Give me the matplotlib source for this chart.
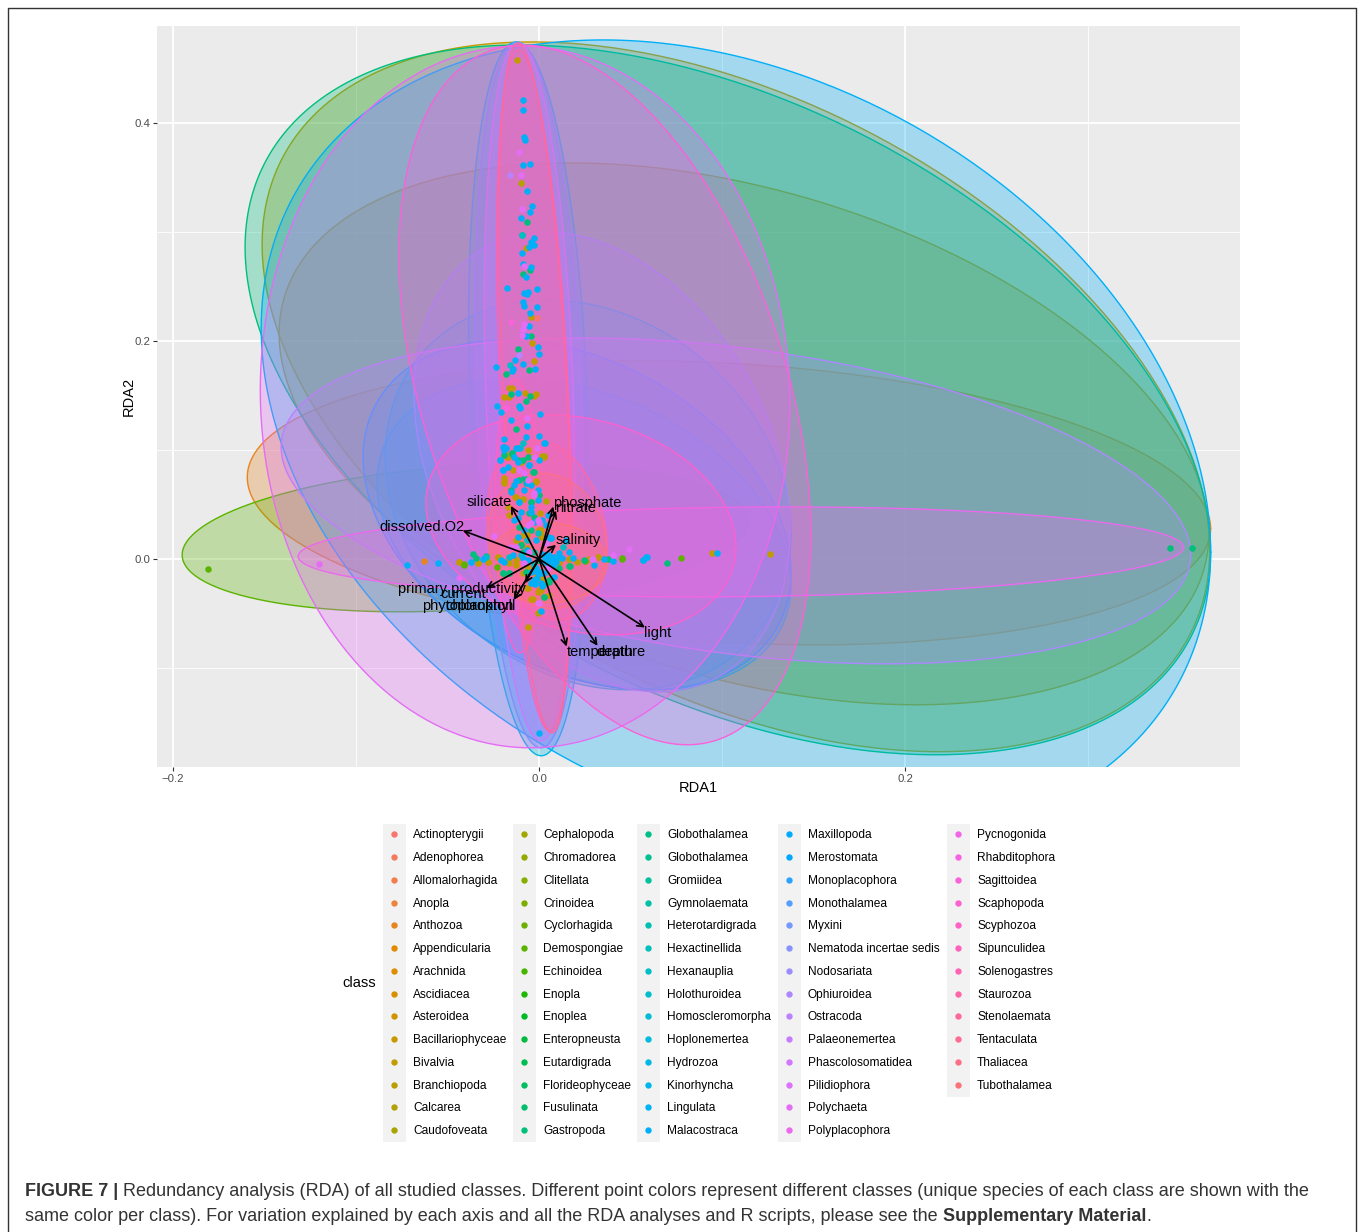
import matplotlib
matplotlib.use("Agg")
import matplotlib.pyplot as plt
import numpy as np

plt.rcParams["font.family"] = ["Liberation Sans", "DejaVu Sans"]

classes = [
    "Actinopterygii", "Adenophorea", "Allomalorhagida", "Anopla", "Anthozoa", "Appendicularia",
    "Arachnida", "Ascidiacea", "Asteroidea", "Bacillariophyceae", "Bivalvia", "Branchiopoda",
    "Calcarea", "Caudofoveata", "Cephalopoda", "Chromadorea", "Clitellata", "Crinoidea",
    "Cyclorhagida", "Demospongiae", "Echinoidea", "Enopla", "Enoplea", "Enteropneusta",
    "Eutardigrada", "Florideophyceae", "Fusulinata", "Gastropoda", "Globothalamea", "Globothalamea",
    "Gromiidea", "Gymnolaemata", "Heterotardigrada", "Hexactinellida", "Hexanauplia", "Holothuroidea",
    "Homoscleromorpha", "Hoplonemertea", "Hydrozoa", "Kinorhyncha", "Lingulata", "Malacostraca",
    "Maxillopoda", "Merostomata", "Monoplacophora", "Monothalamea", "Myxini", "Nematoda incertae sedis",
    "Nodosariata", "Ophiuroidea", "Ostracoda", "Palaeonemertea", "Phascolosomatidea", "Pilidiophora",
    "Polychaeta", "Polyplacophora", "Pycnogonida", "Rhabditophora", "Sagittoidea", "Scaphopoda",
    "Scyphozoa", "Sipunculidea", "Solenogastres", "Staurozoa", "Stenolaemata", "Tentaculata",
    "Thaliacea", "Tubothalamea",
]

# ellipses: class, centre, half extent on each axis, correlation
ell_class = ["Anthozoa", "Asteroidea", "Bivalvia", "Demospongiae", "Gastropoda", "Hexanauplia",
             "Holothuroidea", "Hydrozoa", "Malacostraca", "Merostomata", "Monothalamea", "Myxini",
             "Ophiuroidea", "Ostracoda", "Polychaeta", "Polyplacophora", "Sagittoidea", "Scaphopoda",
             "Scyphozoa", "Solenogastres", "Staurozoa", "Stenolaemata", "Thaliacea", "Tubothalamea"]
ell_cx = [0.1038, 0.112, 0.1076, -0.0404, 0.1032, 0.0268, 0.0246, -0.0057, 0.1076, 0.0208, -0.0055,
          0.0344, 0.1076, -0.0052, -0.0076, 0.1103, 0.036, 0.0229, -0.0115, -0.0026, 0.0044, -0.0022,
          0.0044, 0.0044]
ell_ax = [0.2632, 0.254, 0.2589, 0.1546, 0.2638, 0.1109, 0.1131, 0.0328, 0.2594, 0.1169, 0.0295,
          0.1027, 0.2485, 0.0247, 0.1447, 0.2419, 0.1125, 0.0847, 0.0126, 0.0205, 0.0328, 0.0197,
          0.0325, 0.0328]
ell_cy = [0.0514, 0.1147, 0.1487, 0.0193, 0.1459, 0.0587, 0.0229, 0.1468, 0.1092, 0.0404, 0.1505,
          0.089, 0.0532, 0.1532, 0.1486, 0.0064, 0.1505, 0.0312, 0.0394, 0.1545, 0.0266, 0.1569,
          0.0165, -0.0037]
ell_ay = [0.1303, 0.2486, 0.3257, 0.0679, 0.3257, 0.1789, 0.1431, 0.3275, 0.367, 0.1606, 0.3239,
          0.211, 0.1495, 0.3202, 0.322, 0.0413, 0.3211, 0.1009, 0.1257, 0.3125, 0.0826, 0.3165,
          0.062, 0.0367]
ell_r = [-0.18, -0.37, -0.43, 0.23, -0.43, -0.2, -0.33, -0.21, -0.28, -0.33, -0.22,
         -0.3, -0.33, -0.25, -0.02, 0.1, -0.4, -0.2, -0.1, -0.42, -0.2, -0.47, -0.1, 0.0]

# points, by class
malacostraca_x = [-0.009, -0.009, -0.008, -0.0075, -0.009, -0.005, -0.0064, -0.0037, -0.005, -0.01, -0.0026,
                  -0.0044, -0.003, -0.0053, -0.0095, -0.0087, -0.0044, -0.007, -0.0173, -0.001, -0.008, -0.006,
                  -0.0066, -0.0087, -0.0082, -0.0009, -0.005, -0.0053, -0.007, -0.0004, -0.0002, -0.0129, -0.0237,
                  -0.0087, -0.014, -0.0149, -0.002, -0.0116, -0.0229, -0.0209, -0.0109, -0.0105, 0.0004, -0.0151,
                  -0.0066, -0.019, 0.0002, -0.0073, 0.0031, -0.0193, -0.019, -0.0124, -0.0211, -0.0199, -0.0171,
                  -0.0117, -0.0053, 0.0002, -0.0135, -0.0153, -0.008, -0.0044, -0.0007, -0.0108, -0.0007, -0.0044,
                  -0.0098, -0.0135, -0.0026, -0.008, 0.0056, 0.0038, -0.0371, -0.0308, -0.0207, -0.0189, -0.0144,
                  -0.0089, -0.0062, 0.0066, 0.0047, 0.0093, -0.0016, 0.0011, -0.0025, 0.0084, 0.0011, 0.0184,
                  0.0066, 0.0299, 0.0357, 0.0402, 0.0589, 0.0569, 0.0584, 0.0972, -0.0721, -0.0552, 0.0, 0.0041,
                  0.0015, 0.0035, 0.0028, 0.0062, 0.0105, 0.0128, -0.0035, -0.0012, -0.0021, 0.0018, 0.0074,
                  -0.0199, -0.0181, -0.0117, 0.0028, -0.0212, -0.0135, -0.0053, -0.0199, -0.0126, -0.0063,
                  -0.0108, -0.0044, 0.0019, 0.0047, -0.0117, 0.0047, 0.0065, -0.0017, -0.0117, 0.0147,
                  -0.0063, 0.0056, 0.0083, 0.011, 0.0165, 0.0028, -0.0008, -0.0044, 0.001, -0.0044]
malacostraca_y = [0.421, 0.412, 0.387, 0.384, 0.361, 0.362, 0.338, 0.324, 0.318, 0.3125, 0.294,
                  0.291, 0.288, 0.2865, 0.281, 0.271, 0.2676, 0.2584, 0.2483, 0.248, 0.2437, 0.2452,
                  0.243, 0.2358, 0.2318, 0.2312, 0.2257, 0.214, 0.2046, 0.1945, 0.188, 0.1826, 0.1764,
                  0.1786, 0.1746, 0.1725, 0.1743, 0.1523, 0.1406, 0.1349, 0.1406, 0.1383, 0.133, 0.1272,
                  0.1223, 0.1098, 0.1128, 0.1119, 0.1061, 0.103, 0.1, 0.1018, 0.0908, 0.0816, 0.0847,
                  0.0893, 0.0862, 0.0908, 0.0679, 0.0618, 0.0633, 0.0679, 0.0633, 0.0526, 0.0541, 0.048,
                  0.0434, 0.0357, 0.0342, 0.0266, 0.0189, 0.0312, -0.0025, -0.0003, -0.0009, -0.0025, 0.0036,
                  0.0006, -0.0009, 0.0006, -0.004, -0.0025, -0.0086, -0.0132, -0.0193, -0.0162, -0.0478, 0.0006,
                  0.019, -0.0055, -0.0003, -0.0016, 0.0021, -0.0013, 0.0018, 0.0055, -0.0055, -0.004, -0.16, 0.0032,
                  0.0046, 0.0012, -0.0028, -0.0018, 0.0021, 0.0009, -0.0112, -0.0175, -0.0231, -0.0248, -0.0058,
                  0.1031, 0.1016, 0.1016, 0.1061, 0.0908, 0.0939, 0.0862, 0.0817, 0.071, 0.0694,
                  0.0526, 0.0434, 0.0358, 0.0404, 0.0373, 0.0205, 0.0189, 0.0174, 0.0205, 0.0174,
                  0.0082, 0.0036, 0.0021, 0.0052, 0.0067, -0.0132, -0.0132, -0.0117, -0.0224, -0.0224]

gastropoda_x = [-0.0067, -0.005, -0.009, -0.0042, -0.0116, -0.0053, -0.018, -0.0153, -0.0051, -0.0073, -0.0126,
                -0.0149, -0.015, -0.0117, -0.0062, -0.0035, -0.0108, -0.0071, -0.0044, -0.0053, -0.0026, -0.0098,
                -0.0362, -0.0344, -0.0289, -0.0198, -0.0162, 0.0166, 0.0111, 0.0057, 0.002, 0.0378, 0.0247,
                0.0167, 0.0702, 0.3446, 0.3566, -0.0089, 0.0568, -0.0095,
                -0.019, -0.0145, -0.0026, -0.009, -0.0154, -0.0081, -0.0044, 0.0001, -0.0108, -0.0044,
                -0.0099, -0.0026, 0.0028, -0.0008, -0.0199, -0.0163, -0.0072, 0.0056, -0.0026, 0.0025]
gastropoda_y = [0.309, 0.2654, 0.261, 0.2043, 0.1927, 0.1731, 0.1694, 0.1511, 0.1492, 0.145, 0.1193,
                0.0966, 0.0969, 0.0908, 0.0939, 0.0801, 0.0725, 0.0694, 0.0526, 0.0419, 0.0388, 0.0128,
                0.0043, 0.0006, 0.0027, -0.0132, -0.0126, -0.0064, -0.0086, -0.0208, -0.0239, -0.0003, -0.001,
                -0.0065, -0.004, 0.01, 0.01, 0.0064, -0.001, 0.297,
                0.0954, 0.097, 0.0801, 0.0908, 0.0633, 0.074, 0.0526, 0.0587, 0.0296, 0.0266,
                0.0128, 0.0067, 0.0036, -0.001, -0.0132, -0.0132, -0.0117, -0.0193, -0.0224, -0.0346]

bivalvia_x = [-0.012, -0.007, -0.0044, -0.004, -0.0027, -0.0162, -0.0147, -0.019, -0.0165, -0.0076, -0.0027,
              -0.0016, -0.0058, -0.0175, -0.0038, -0.0175, -0.0098, -0.0144, -0.019, -0.019, -0.0017, -0.0126,
              -0.0089, -0.0171, -0.0162, 0.0007, 0.0002, -0.0126, -0.0089, -0.0335, -0.028, -0.0226, -0.0162,
              -0.0125, -0.0089, -0.0058, 0.0111, 0.0208, 0.0275, 0.0324, 0.0011, -0.0062, 0.0011, -0.0007,
              -0.0035, 0.0057, 0.0011, -0.0098, 0.126, 0.0945, -0.006, -0.0435,
              -0.0172, -0.01, -0.0044, 0.0019, -0.019, -0.0132, -0.009, -0.0017, -0.0063, 0.001, -0.0063,
              0.001, -0.0126, -0.0226, -0.0281, 0.011, -0.0172, 0.0, -0.0044, 0.0019, -0.0063, -0.0017]
bivalvia_y = [0.458, 0.285, 0.2217, 0.1984, 0.182, 0.1566, 0.1566, 0.149, 0.149, 0.1523, 0.1495,
              0.1514, 0.1, 0.0954, 0.0938, 0.0939, 0.0893, 0.0816, 0.074, 0.0694, 0.0709, 0.0572,
              0.055, 0.048, 0.0403, 0.0425, 0.0266, 0.0174, 0.022, -0.0034, -0.0025, 0.0021, -0.0034,
              -0.0055, -0.0132, -0.0086, -0.0025, -0.0031, -0.0003, 0.0015, -0.0162, -0.027, -0.0285, -0.03,
              -0.0368, -0.0331, 0.022, 0.0137, 0.0046, 0.005, -0.0624, -0.0031,
              0.0939, 0.0893, 0.0939, 0.0945, 0.071, 0.0572, 0.0547, 0.071, 0.0097, 0.0266, 0.022,
              0.0205, -0.001, 0.0021, -0.0025, -0.0025, -0.0025, -0.0285, -0.037, -0.0193, -0.027, -0.0163]

calcarea_x = [-0.0097, 0.0026, 0.0025, 0.0038, -0.0007, 0.0166]
calcarea_y = [0.345, 0.0942, 0.0939, 0.0532, -0.0493, 0.0]

anthozoa_x = [-0.0628, -0.0437, -0.0333, 0.032]
anthozoa_y = [-0.0018, -0.0028, -0.0037, 0.0015]

demospongiae_x = [-0.181, -0.041, -0.0408, -0.0229, 0.0251, 0.0029, 0.0456, 0.0775, 0.0453]
demospongiae_y = [-0.009, -0.0055, -0.0049, -0.0077, -0.0016, -0.0346, 0.0006, 0.0009, 0.0]

polychaeta_x = [-0.011, -0.01, -0.0095, -0.0084, -0.008, -0.0086, -0.0093, -0.0066, -0.0009, -0.008, -0.0062,
                -0.0026, -0.0108, -0.0026, 0.0002, -0.0062, 0.0038, -0.0435, 0.0293, 0.0002, -0.0125, -0.0244,
                -0.0053, -0.12, 0.0493, 0.0402, 0.0292,
                -0.0026, -0.0044, -0.0008, 0.0047, -0.0081, -0.0154, -0.0008]
polychaeta_y = [0.373, 0.352, 0.321, 0.269, 0.2156, 0.2107, 0.2055, 0.129, 0.1021, 0.0786, 0.0725,
                0.0939, 0.0816, 0.0587, 0.0342, 0.0312, 0.0143, -0.0178, -0.0003, -0.0407, 0.0113, 0.0211,
                0.0067, -0.005, 0.0091, 0.0036, -0.0003,
                0.0602, 0.0327, 0.0358, -0.0086, -0.004, 0.0113, -0.0407]

hexanauplia_x = [-0.016, -0.0089, -0.0102, 0.0148, -0.0095,
                 -0.0099, -0.0063, -0.0008, 0.0129, -0.0163, -0.029, -0.0026, 0.001]
hexanauplia_y = [0.1777, 0.1064, 0.1016, 0.0168, 0.297,
                 0.0036, 0.0174, 0.0235, 0.0113, 0.0021, 0.0021, -0.0055, -0.0117]

ostracoda_x = [-0.016, -0.0111]
ostracoda_y = [0.352, 0.1875]

sagittoidea_x = [-0.0155, -0.0179]
sagittoidea_y = [0.2174, 0.1388]

actinopterygii_x = [-0.0011]
actinopterygii_y = [0.2214]

point_groups = [
    ("Actinopterygii", actinopterygii_x, actinopterygii_y),
    ("Anthozoa", anthozoa_x, anthozoa_y),
    ("Bivalvia", bivalvia_x, bivalvia_y),
    ("Calcarea", calcarea_x, calcarea_y),
    ("Demospongiae", demospongiae_x, demospongiae_y),
    ("Gastropoda", gastropoda_x, gastropoda_y),
    ("Hexanauplia", hexanauplia_x, hexanauplia_y),
    ("Malacostraca", malacostraca_x, malacostraca_y),
    ("Ostracoda", ostracoda_x, ostracoda_y),
    ("Polychaeta", polychaeta_x, polychaeta_y),
    ("Sagittoidea", sagittoidea_x, sagittoidea_y),
]

# environmental arrows
env_labels = ["silicate", "phosphate", "nitrate", "dissolved.O2", "salinity", "primary productivity",
              "current", "phytoplankton", "chlorophyll", "temperature", "depth", "light"]
env_x = [-0.0153, 0.0078, 0.0093, -0.0417, 0.0093, -0.0289, -0.0076, -0.0138, -0.0138, 0.0151, 0.032, 0.0579]
env_y = [0.0486, 0.048, 0.0443, 0.026, 0.0128, -0.0269, -0.0223, -0.0376, -0.0376, -0.0805, -0.0798, -0.063]
label_x = [-0.0273, 0.0262, 0.0197, -0.0639, 0.0213, -0.0421, -0.0415, -0.0388, -0.0322, 0.0366, 0.0415, 0.065]
label_y = [0.0523, 0.0514, 0.0468, 0.029, 0.0174, -0.0275, -0.032, -0.0431, -0.0431, -0.0853, -0.0853, -0.0679]


def hcl(h, c=100.0, l=65.0):
    # same hue wheel ggplot uses by default
    hr = np.radians(h)
    u, v = c * np.cos(hr), c * np.sin(hr)
    yy = ((l + 16) / 116) ** 3
    un, vn = 0.19784, 0.46834
    up, vp = u / (13 * l) + un, v / (13 * l) + vn
    xx = 9 * yy * up / (4 * vp)
    zz = -xx / 3 - 5 * yy + 3 * yy / vp
    m = np.array([[3.240479, -1.537150, -0.498535],
                  [-0.969256, 1.875992, 0.041556],
                  [0.055648, -0.204043, 1.057311]])
    rgb = np.clip(m @ np.array([xx, yy, zz]), 0, 1)
    rgb = np.where(rgb > 0.0031308, 1.055 * rgb ** (1 / 2.4) - 0.055, 12.92 * rgb)
    return tuple(np.clip(rgb, 0, 1))


colors = [hcl(15 + 360 * i / len(classes)) for i in range(len(classes))]


def class_color(name):
    return colors[classes.index(name)]


W, H = 1360, 1232
fig = plt.figure(figsize=(W / 100, H / 100), dpi=100, facecolor="white")
ax = fig.add_axes([157 / W, 1 - 767 / H, (1240 - 157) / W, (767 - 26) / H])
ax.set_facecolor("#EBEBEB")
ax.set_xlim(-0.20874, 0.38306)
ax.set_ylim(-0.191, 0.489)
for s in ax.spines.values():
    s.set_visible(False)

ax.set_xticks([-0.2, 0.0, 0.2])
ax.set_xticklabels(["\u22120.2", "0.0", "0.2"])
ax.set_yticks([0.0, 0.2, 0.4])
ax.set_yticklabels(["0.0", "0.2", "0.4"])
ax.set_xticks([-0.1, 0.1, 0.3], minor=True)
ax.set_yticks([-0.1, 0.1, 0.3], minor=True)
ax.tick_params(which="major", length=3, width=0.8, color="#333333", labelcolor="#4D4D4D", labelsize=8.2, pad=2)
ax.tick_params(which="minor", length=0)
ax.grid(which="major", color="white", lw=1.3)
ax.grid(which="minor", color="white", lw=0.6)
ax.set_axisbelow(True)
ax.set_xlabel("RDA1", fontsize=10.5, color="black", labelpad=-2)
ax.set_ylabel("RDA2", fontsize=10.5, color="black", labelpad=-1)

t = np.linspace(0, 2 * np.pi, 361)
for k, (name, cx, ex, cy, ey, r) in enumerate(zip(ell_class, ell_cx, ell_ax, ell_cy, ell_ay, ell_r)):
    col = class_color(name)
    phi = np.arccos(r)
    # fill and outline share a layer, so later ellipses veil the earlier outlines
    ax.fill(cx + ex * np.cos(t), cy + ey * np.cos(t - phi), facecolor=col, alpha=0.3, edgecolor="none",
            zorder=2 + k * 0.01)
    ax.plot(cx + ex * np.cos(t), cy + ey * np.cos(t - phi), color=col, lw=1.0, zorder=2 + k * 0.01 + 0.005)

for name, xs, ys in point_groups:
    ax.scatter(xs, ys, s=22, color=class_color(name), linewidths=0, zorder=5)

for ex, ey, lx, ly, lab in zip(env_x, env_y, label_x, label_y, env_labels):
    ax.annotate("", xy=(ex, ey), xytext=(0, 0), zorder=6,
                arrowprops=dict(arrowstyle="->", color="black", lw=1.2, mutation_scale=11,
                                shrinkA=0, shrinkB=0))
    ax.text(lx, ly, lab, fontsize=10.5, color="black", ha="center", va="center", zorder=7)

# overlay in pixels for legend, caption and page frame
over = fig.add_axes([0, 0, 1, 1], facecolor="none")
over.set_xlim(0, W)
over.set_ylim(H, 0)
over.axis("off")
over.plot([8, 8, 1356, 1356], [H, 8, 8, H], color="#333333", lw=1.0)

key_left = [383, 513, 637, 778, 947]
per_col = 14
row_top, row_h = 823.5, 22.75
for i, name in enumerate(classes):
    col_i, row_i = divmod(i, per_col)
    kx = key_left[col_i]
    over.add_patch(plt.Rectangle((kx, row_top + row_i * row_h), 23, row_h, facecolor="#F2F2F2", edgecolor="none"))
    yc = row_top + (row_i + 0.5) * row_h
    over.scatter([kx + 10.8], [yc - 0.5], s=21, color=colors[i], linewidths=0, zorder=3)
    over.text(kx + 30, yc + 0.5, name, fontsize=8.6, color="black", va="center", ha="left")
over.text(359, 983, "class", fontsize=10.5, color="black", ha="center", va="center")

caption = [
    (1190, [("FIGURE 7 | ", True),
            ("Redundancy analysis (RDA) of all studied classes. Different point colors represent different classes "
             "(unique species of each class are shown with the", False)]),
    (1215, [("same color per class). For variation explained by each axis and all the RDA analyses and R scripts, "
             "please see the ", False),
            ("Supplementary Material", True), (".", False)]),
]
fig.canvas.draw()
renderer = fig.canvas.get_renderer()
for y, parts in caption:
    x = 25
    for txt, bold in parts:
        item = over.text(x, y + 1.5, txt, fontsize=12.95, color="#333333", va="center", ha="left",
                         fontweight="bold" if bold else "normal")
        x += item.get_window_extent(renderer).width

fig.savefig("out.png", dpi=100, facecolor="white")
